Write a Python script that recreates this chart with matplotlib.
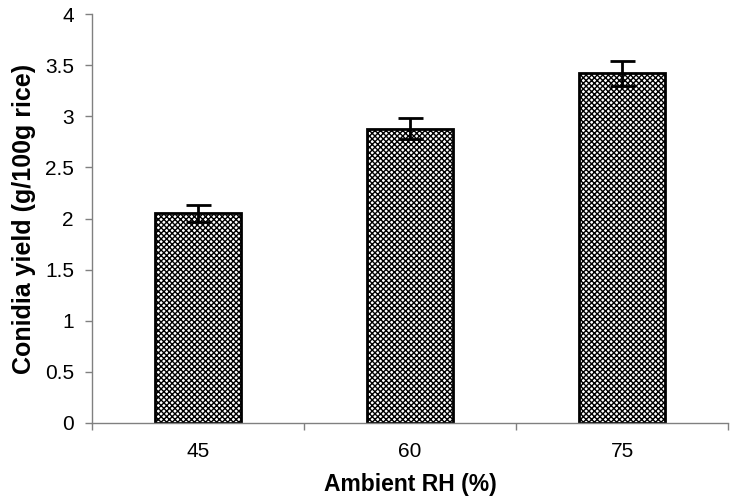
import matplotlib
matplotlib.use("Agg")
import matplotlib.pyplot as plt
import numpy as np

categories = ["45", "60", "75"]
values = [2.05, 2.88, 3.42]
errors = [0.08, 0.10, 0.12]
yticks = [0, 0.5, 1, 1.5, 2, 2.5, 3, 3.5, 4]
ytick_labels = ["0", "0.5", "1", "1.5", "2", "2.5", "3", "3.5", "4"]

plt.rcParams['font.family'] = ['Liberation Sans', 'DejaVu Sans']
plt.rcParams['hatch.linewidth'] = 1.0
plt.rcParams['hatch.color'] = '#333333'

fig = plt.figure(figsize=(7.33, 5.0), dpi=100)
ax = fig.add_axes([92/733, 1-423/500, (728-92)/733, (423-14)/500])

x = np.arange(len(categories))
ax.bar(x, values, width=0.41, facecolor='white', edgecolor='black',
       linewidth=2, hatch='xxxxxx', zorder=2)
ax.errorbar(x, values, yerr=errors, fmt='none', ecolor='black',
            elinewidth=2, capsize=9, capthick=2, zorder=3)

ax.set_xlim(-0.5, len(categories) - 0.5)
ax.set_ylim(0, 4)
ax.set_yticks(yticks)
ax.set_yticklabels(ytick_labels, fontsize=15)
ax.set_xticks(x)
ax.set_xticklabels(categories, fontsize=15)
ax.set_xticks(np.arange(-0.5, len(categories), 1.0), minor=True)

ax.tick_params(axis='x', which='major', length=0, pad=14)
ax.tick_params(axis='x', which='minor', length=5, color='#808080', width=1)
ax.tick_params(axis='y', length=5, color='#808080', width=1, pad=8)

for s in ['top', 'right']:
    ax.spines[s].set_visible(False)
for s in ['left', 'bottom']:
    ax.spines[s].set_color('#808080')
    ax.spines[s].set_linewidth(1)

ax.set_xlabel("Ambient RH (%)", fontsize=16.5, fontweight='bold', labelpad=8)
ax.set_ylabel("Conidia yield (g/100g rice)", fontsize=18, fontweight='bold', labelpad=6)

fig.savefig("out.png", dpi=100)
